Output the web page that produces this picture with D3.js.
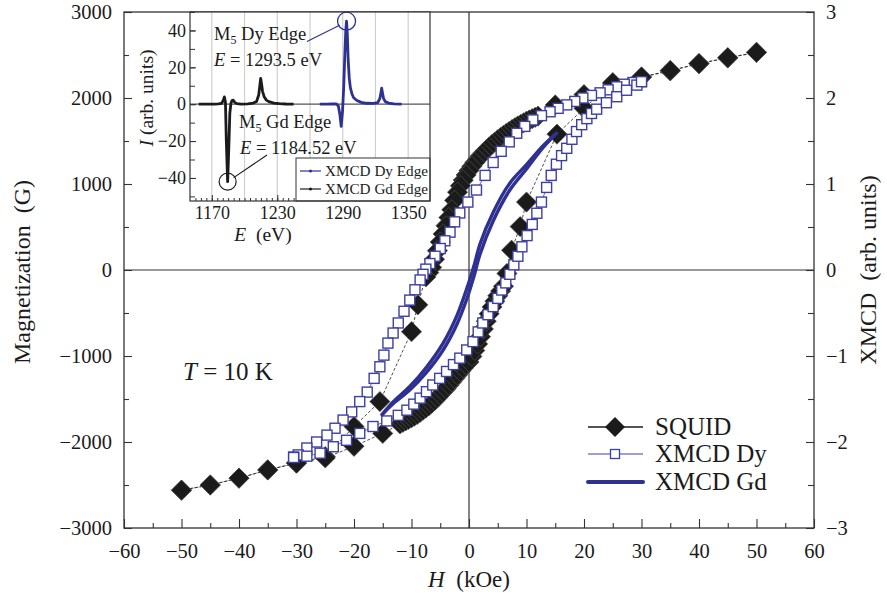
<!DOCTYPE html>
<html>
<head>
<meta charset="utf-8">
<script src="https://cdn.jsdelivr.net/npm/d3@7"></script>
<style>
  html, body { margin: 0; padding: 0; background: #fff; }
  svg { display: block; font-family: "Liberation Serif", "DejaVu Serif", serif; }
</style>
</head>
<body>
<svg id="chart" width="887" height="596"></svg>
<script>
// SQUID loop, descending branch (from +50 kOe to -50 kOe)
const squidH_down = [50,45,40,35,30,25,20,15,12,11.5,11,10.5,10,9.5,9,8.5,8,7.5,7,6.5,6,5.5,5,4.5,4,3.5,3,2.5,2,1.5,1,0.5,0,-0.5,-1,-1.5,-2,-2.5,-3,-3.5,-4,-4.5,-5,-5.5,-6,-6.5,-7,-7.5,-8.9,-10,-15.5,-20,-25,-30,-35,-40,-45,-50];
const squidM_down = [2530,2465,2400,2315,2240,2170,2040,1920,1790,1775,1760,1745,1730,1712,1694,1675,1655,1634,1612,1590,1566,1541,1515,1488,1460,1430,1398,1364,1328,1290,1250,1205,1158,1105,1045,980,905,810,700,610,515,420,325,225,125,30,-30,-80,-405,-717,-1530,-1820,-2170,-2245,-2325,-2420,-2500,-2560];
// SQUID loop, ascending branch (from -50 kOe to +50 kOe)
const squidH_up = [-50,-45,-40,-35,-30,-25,-20,-15,-12,-11.5,-11,-10.5,-10,-9.5,-9,-8.5,-8,-7.5,-7,-6.5,-6,-5.5,-5,-4.5,-4,-3.5,-3,-2.5,-2,-1.5,-1,-0.5,0,0.5,1,1.5,2,2.5,3,3.5,4,4.5,5,5.5,6,6.6,7.4,8.9,10,15.3,20,25,30,35,40,45,50];
const squidM_up = [-2560,-2500,-2420,-2325,-2245,-2185,-2050,-1900,-1790,-1772,-1755,-1738,-1720,-1700,-1680,-1656,-1630,-1606,-1580,-1550,-1520,-1486,-1450,-1416,-1380,-1340,-1300,-1260,-1220,-1180,-1140,-1100,-1070,-1005,-935,-860,-775,-685,-595,-510,-430,-362,-300,-245,-190,-40,230,505,790,1580,1880,2180,2245,2320,2400,2470,2530];

// XMCD Dy loop (right axis, arb. units)
const dyH_down = [30,28.5,27,25.7,24.2,22.8,21.3,19.8,18.4,17,15.5,14.1,12.6,11.1,9.7,8.3,7,5.6,4.2,2.8,1.3,-0.2,-1.6,-2.5,-3.3,-4.2,-5,-5.9,-6.8,-7.5,-8,-8.5,-9.4,-10.3,-11.3,-12.3,-13.2,-14.1,-14.8,-15.5,-16.5,-17.7,-19,-20.4,-21.9,-23.3,-24.7,-26.5,-28.2,-29.7,-30.5];
const dyM_down = [2.19,2.18,2.16,2.13,2.095,2.06,2.03,2.0,1.96,1.92,1.88,1.84,1.795,1.745,1.67,1.59,1.49,1.38,1.25,1.1,0.93,0.79,0.663,0.56,0.44,0.34,0.25,0.16,0.075,0.01,-0.05,-0.116,-0.23,-0.35,-0.48,-0.616,-0.733,-0.85,-0.99,-1.125,-1.26,-1.42,-1.53,-1.65,-1.745,-1.84,-1.92,-2.0,-2.07,-2.15,-2.175];
const dyH_up = [-30.5,-28.2,-25.9,-23.6,-21.3,-19,-16.7,-14.3,-12.3,-10.8,-9.6,-8.5,-7.4,-6.3,-5.1,-3.9,-2.7,-1.6,-0.4,0.7,1.6,2.4,3.3,4.2,5,5.7,6.4,7.1,7.8,8.5,9.2,10.1,11,11.8,12.6,13.5,14.3,15.2,16.1,17,17.9,18.7,19.6,20.5,21.3,22.2,23.9,25.7,27.4,29.2,30];
const dyM_up = [-2.18,-2.165,-2.13,-2.055,-1.98,-1.9,-1.82,-1.755,-1.69,-1.63,-1.56,-1.49,-1.415,-1.337,-1.26,-1.18,-1.1,-1.025,-0.93,-0.833,-0.72,-0.616,-0.52,-0.426,-0.33,-0.233,-0.15,-0.05,0.06,0.16,0.27,0.4,0.53,0.66,0.79,0.96,1.1,1.23,1.33,1.415,1.52,1.61,1.69,1.76,1.82,1.87,1.945,2.015,2.09,2.15,2.19];

// XMCD Gd loop (narrow)
const gdH_down = [15.2,12.9,10,7.1,4.2,1.9,1,-0.4,-2.1,-4.5,-7.4,-10.3,-13.2,-15.1];
const gdM_down = [1.59,1.445,1.225,1.01,0.67,0.30,0.08,-0.22,-0.53,-0.85,-1.13,-1.355,-1.535,-1.68];
const gdH_up = [-15.1,-13.2,-10.3,-7.4,-4.5,-2.1,-0.4,1,1.9,4.2,7.1,10,12.9,15.2];
const gdM_up = [-1.68,-1.555,-1.395,-1.19,-0.93,-0.63,-0.34,-0.04,0.18,0.57,0.93,1.175,1.425,1.59];

// Inset spectra: XMCD at the M5 edges
const gdE = [1158,1165,1172,1176,1179,1180.5,1181.5,1182.5,1183.3,1184.5,1185.5,1186.5,1187.5,1188.5,1189.7,1191,1193,1197,1203,1208,1211,1213,1214,1214.8,1215.6,1216.5,1218,1220,1223,1227,1232,1238,1245];
const gdI = [0,0,0,0.2,0.5,2,4,1,-20,-42,-25,-5,0.5,2,2.2,1,0.3,0,0.2,0.6,1.5,5,10,14,11,7,4,2.2,1.2,0.6,0.3,0.1,0];
const dyE = [1269,1275,1280,1284,1286,1287.5,1288.6,1289.8,1290.8,1291.8,1292.8,1293.5,1294.2,1295,1296,1297,1298.5,1300,1303,1307,1312,1318,1322,1324,1325,1325.7,1326.5,1327.5,1329,1332,1337,1344];
const dyI = [0,0,0.1,0.2,-1,-6,-12,-4,8,25,40,45,38,24,14,9,5.5,3.5,2,1,0.5,0.4,0.8,3,6,8.7,6,3,1.4,0.6,0.2,0];

// Tick values and labels
const xTicksMajor = [-60,-50,-40,-30,-20,-10,0,10,20,30,40,50,60];
const yTicksLeft = [-3000,-2000,-1000,0,1000,2000,3000];
const yTicksRight = [-3,-2,-1,0,1,2,3];
const insetXTicks = [1170,1230,1290,1350];
const insetYTicks = [-40,-20,0,20,40];
const insetGrid = [1170,1200,1230,1260,1290,1320,1350];

const BLUE = "#2e3192";
const DYBLUE = "#3d40a3";
const INK = "#1b1b1b";
const minus = s => String(s).replace("-", "\u2212");

const svg = d3.select("#chart");

// ---- main scales
const x = d3.scaleLinear().domain([-60, 60]).range([124, 814]);
const y = d3.scaleLinear().domain([-3000, 3000]).range([528, 12]);
const yR = d3.scaleLinear().domain([-3, 3]).range([528, 12]);

const axisStyle = g => {
  g.select(".domain").remove();
  g.selectAll(".tick line").attr("stroke", "#333").attr("stroke-width", 1.1);
  g.selectAll(".tick text").attr("font-size", 20.5).attr("fill", INK)
    .attr("font-family", "Liberation Serif, serif");
};

// bottom axis
svg.append("g").attr("transform", "translate(0,528)")
  .call(d3.axisBottom(x).tickValues(d3.range(-55, 60, 10)).tickSize(-5).tickFormat(""))
  .call(axisStyle);
svg.append("g").attr("transform", "translate(0,528)")
  .call(d3.axisBottom(x).tickValues(xTicksMajor).tickSize(-9).tickPadding(15).tickFormat(minus))
  .call(axisStyle);

// left axis
svg.append("g").attr("transform", "translate(124,0)")
  .call(d3.axisLeft(y).tickValues(d3.range(-2500, 3000, 1000)).tickSize(-5).tickFormat(""))
  .call(axisStyle);
svg.append("g").attr("transform", "translate(124,0)")
  .call(d3.axisLeft(y).tickValues(yTicksLeft).tickSize(-8).tickPadding(12).tickFormat(minus))
  .call(axisStyle);

// right axis
svg.append("g").attr("transform", "translate(814,0)")
  .call(d3.axisRight(yR).tickValues(d3.range(-2.5, 3, 1)).tickSize(-6).tickFormat(""))
  .call(axisStyle);
svg.append("g").attr("transform", "translate(814,0)")
  .call(d3.axisRight(yR).tickValues(yTicksRight).tickSize(-8).tickPadding(12).tickFormat(minus))
  .call(axisStyle);

// frame and zero lines
svg.append("rect").attr("x", 124).attr("y", 12).attr("width", 690).attr("height", 516)
  .attr("fill", "none").attr("stroke", "#333").attr("stroke-width", 1.3);
svg.append("line").attr("x1", 124).attr("x2", 814).attr("y1", y(0)).attr("y2", y(0))
  .attr("stroke", "#333").attr("stroke-width", 1.2);
svg.append("line").attr("x1", x(0)).attr("x2", x(0)).attr("y1", 12).attr("y2", 528)
  .attr("stroke", "#333").attr("stroke-width", 1.2);

// ---- SQUID
const squid = squidH_down.map((h, i) => [h, squidM_down[i]])
  .concat(squidH_up.map((h, i) => [h, squidM_up[i]]));
const squidLine = d3.line().x(d => x(d[0])).y(d => y(d[1]));
svg.append("path").attr("d", squidLine(squid)).attr("fill", "none")
  .attr("stroke", "#222").attr("stroke-width", 0.8).attr("stroke-dasharray", "3,2");
const diamond = d3.symbol().type(d3.symbolSquare).size(205);
svg.append("g").selectAll("path").data(squid).join("path")
  .attr("d", diamond)
  .attr("transform", d => `translate(${x(d[0])},${y(d[1])}) rotate(45)`)
  .attr("fill", INK).attr("stroke", "#555").attr("stroke-width", 0.6);

// ---- XMCD Dy
const dyLoop = dyH_down.map((h, i) => [h, dyM_down[i]])
  .concat(dyH_up.map((h, i) => [h, dyM_up[i]]));
const dyLine = d3.line().x(d => x(d[0])).y(d => yR(d[1]));
svg.append("path").attr("d", dyLine(dyLoop)).attr("fill", "none")
  .attr("stroke", DYBLUE).attr("stroke-width", 0.8);
svg.append("g").selectAll("rect").data(dyLoop).join("rect")
  .attr("x", d => x(d[0]) - 5).attr("y", d => yR(d[1]) - 5)
  .attr("width", 10).attr("height", 10)
  .attr("fill", "#fff").attr("stroke", DYBLUE).attr("stroke-width", 1.4);

// ---- XMCD Gd
const gdLine = d3.line().curve(d3.curveCatmullRom).x(d => x(d[0])).y(d => yR(d[1]));
[gdH_down.map((h, i) => [h, gdM_down[i]]), gdH_up.map((h, i) => [h, gdM_up[i]])]
  .forEach(br => svg.append("path").attr("d", gdLine(br)).attr("fill", "none")
    .attr("stroke", BLUE).attr("stroke-width", 3.4).attr("stroke-linecap", "round"));

// ---- axis titles
svg.append("text").attr("transform", "translate(30,272) rotate(-90)")
  .attr("text-anchor", "middle").attr("font-size", 24).attr("fill", INK)
  .text("Magnetization\u2002(G)");
svg.append("text").attr("transform", "translate(876,270) rotate(-90)")
  .attr("text-anchor", "middle").attr("font-size", 24).attr("fill", INK)
  .text("XMCD\u2002(arb. units)");
const xt = svg.append("text").attr("x", 469).attr("y", 587).attr("text-anchor", "middle")
  .attr("font-size", 23).attr("fill", INK);
xt.append("tspan").attr("font-style", "italic").text("H");
xt.append("tspan").text("\u2002(kOe)");

const tt = svg.append("text").attr("x", 183).attr("y", 380).attr("font-size", 25).attr("fill", INK);
tt.append("tspan").attr("font-style", "italic").text("T");
tt.append("tspan").text(" = 10 K");

// ---- legend
const legY = [427, 454, 482];
const lx0 = 588, lx1 = 643, lmid = 615;
svg.append("line").attr("x1", lx0).attr("x2", lx1).attr("y1", legY[0]).attr("y2", legY[0])
  .attr("stroke", INK).attr("stroke-width", 1.3);
svg.append("path").attr("d", d3.symbol().type(d3.symbolSquare).size(200)())
  .attr("transform", `translate(${lmid},${legY[0]}) rotate(45)`).attr("fill", INK);
svg.append("line").attr("x1", lx0).attr("x2", lx1).attr("y1", legY[1]).attr("y2", legY[1])
  .attr("stroke", DYBLUE).attr("stroke-width", 1.2);
svg.append("rect").attr("x", lmid - 4.5).attr("y", legY[1] - 4.5).attr("width", 9).attr("height", 9)
  .attr("fill", "#fff").attr("stroke", DYBLUE).attr("stroke-width", 1.3);
svg.append("line").attr("x1", lx0).attr("x2", lx1).attr("y1", legY[2]).attr("y2", legY[2])
  .attr("stroke", BLUE).attr("stroke-width", 4).attr("stroke-linecap", "round");
["SQUID", "XMCD Dy", "XMCD Gd"].forEach((t, i) =>
  svg.append("text").attr("x", 655).attr("y", legY[i] + 8).attr("font-size", 25)
    .attr("fill", INK).text(t));

// ---- inset
const xi = d3.scaleLinear().domain([1150, 1370]).range([190, 430]);
const yi = d3.scaleLinear().domain([-52.5, 50]).range([201, 12]);
const inset = svg.append("g");
inset.append("rect").attr("x", 190).attr("y", 12).attr("width", 240).attr("height", 189)
  .attr("fill", "#fff");
inset.append("g").selectAll("line").data(insetGrid).join("line")
  .attr("x1", d => xi(d)).attr("x2", d => xi(d)).attr("y1", 12).attr("y2", 201)
  .attr("stroke", "#cfcfcf").attr("stroke-width", 1.2);
inset.append("line").attr("x1", 190).attr("x2", 430).attr("y1", yi(0)).attr("y2", yi(0))
  .attr("stroke", "#555").attr("stroke-width", 1.2);

const insetAxis = g => {
  g.select(".domain").remove();
  g.selectAll(".tick line").attr("stroke", "#333").attr("stroke-width", 1);
  g.selectAll(".tick text").attr("font-size", 18).attr("fill", INK)
    .attr("font-family", "Liberation Serif, serif");
};
inset.append("g").attr("transform", "translate(0,201)")
  .call(d3.axisBottom(xi).tickValues(d3.range(1155, 1370, 5)).tickSize(-3).tickFormat(""))
  .call(insetAxis);
inset.append("g").attr("transform", "translate(0,201)")
  .call(d3.axisBottom(xi).tickValues(insetXTicks).tickSize(-6).tickPadding(5).tickFormat(d3.format("d")))
  .call(insetAxis);
inset.append("g").attr("transform", "translate(190,0)")
  .call(d3.axisLeft(yi).tickValues(d3.range(-50, 51, 10)).tickSize(-5).tickFormat(""))
  .call(insetAxis);
inset.append("g").attr("transform", "translate(190,0)")
  .call(d3.axisLeft(yi).tickValues(insetYTicks).tickSize(-6).tickPadding(4).tickFormat(minus))
  .call(insetAxis);

// spectra
const specLine = d3.line().x(d => xi(d[0])).y(d => yi(d[1]));
const gdSpec = gdE.map((e, i) => [e, gdI[i]]);
const dySpec = dyE.map((e, i) => [e, dyI[i]]);
inset.append("path").attr("d", specLine(gdSpec)).attr("fill", "none")
  .attr("stroke", INK).attr("stroke-width", 2.8).attr("stroke-linejoin", "round");
inset.append("path").attr("d", specLine(dySpec)).attr("fill", "none")
  .attr("stroke", BLUE).attr("stroke-width", 2.8).attr("stroke-linejoin", "round");

// edge markers
inset.append("circle").attr("cx", xi(1293.5)).attr("cy", yi(45)).attr("r", 9)
  .attr("fill", "none").attr("stroke", BLUE).attr("stroke-width", 1.3);
inset.append("circle").attr("cx", xi(1184.5)).attr("cy", yi(-42)).attr("r", 8.5)
  .attr("fill", "none").attr("stroke", INK).attr("stroke-width", 1.2);
inset.append("line").attr("x1", 307).attr("y1", 41.5).attr("x2", xi(1293.5) - 7).attr("y2", yi(45) + 4)
  .attr("stroke", BLUE).attr("stroke-width", 1.1);
inset.append("line").attr("x1", 267).attr("y1", 155).attr("x2", xi(1184.5) + 6).attr("y2", yi(-42) - 4)
  .attr("stroke", INK).attr("stroke-width", 1.1);

// edge annotations
const edgeLabel = (xp, yp, el) => {
  const t = inset.append("text").attr("x", xp).attr("y", yp).attr("font-size", 18.5).attr("fill", INK);
  t.append("tspan").text("M");
  t.append("tspan").attr("font-size", 12).attr("dy", 4).text("5");
  t.append("tspan").attr("dy", -4).text(" " + el + " Edge");
};
const energyLabel = (xp, yp, v) => {
  const t = inset.append("text").attr("x", xp).attr("y", yp).attr("font-size", 18.5).attr("fill", INK);
  t.append("tspan").attr("font-style", "italic").text("E");
  t.append("tspan").text(" = " + v + " eV");
};
edgeLabel(214, 40, "Dy");
energyLabel(214, 66, "1293.5");
edgeLabel(239, 128, "Gd");
energyLabel(240, 154, "1184.52");

// inset legend
inset.append("rect").attr("x", 296).attr("y", 158).attr("width", 134).attr("height", 43)
  .attr("fill", "#fff").attr("stroke", "#333").attr("stroke-width", 1);
[["XMCD Dy Edge", BLUE, 171], ["XMCD Gd Edge", INK, 189]].forEach(([t, c, yy]) => {
  inset.append("line").attr("x1", 300).attr("x2", 321).attr("y1", yy).attr("y2", yy)
    .attr("stroke", c).attr("stroke-width", 1.2);
  inset.append("circle").attr("cx", 310.5).attr("cy", yy).attr("r", 1.6).attr("fill", c);
  inset.append("text").attr("x", 325).attr("y", yy + 5).attr("font-size", 14.5)
    .attr("textLength", 103).attr("lengthAdjust", "spacingAndGlyphs")
    .attr("fill", INK).text(t);
});

// inset frame
inset.append("rect").attr("x", 190).attr("y", 12).attr("width", 240).attr("height", 189)
  .attr("fill", "none").attr("stroke", "#333").attr("stroke-width", 1.2);

// inset axis titles
const it = inset.append("text").attr("transform", "translate(153,98) rotate(-90)")
  .attr("text-anchor", "middle").attr("font-size", 19.5).attr("fill", INK);
it.append("tspan").attr("font-style", "italic").text("I");
it.append("tspan").text(" (arb. units)");
const et = inset.append("text").attr("x", 263).attr("y", 241).attr("text-anchor", "middle")
  .attr("font-size", 19.5).attr("fill", INK);
et.append("tspan").attr("font-style", "italic").text("E");
et.append("tspan").text("\u2002(eV)");
</script>
</body>
</html>
